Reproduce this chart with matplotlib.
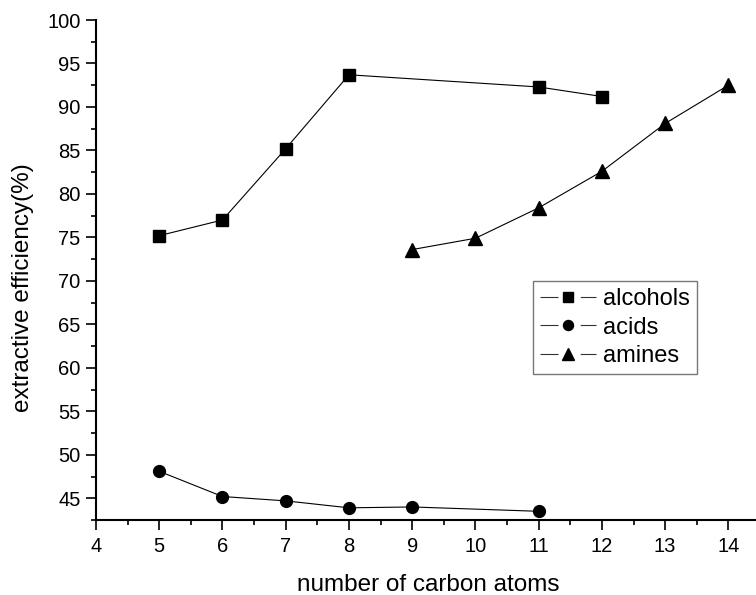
import matplotlib
matplotlib.use("Agg")
import matplotlib.pyplot as plt
from matplotlib.ticker import MultipleLocator

plt.rcParams['font.family'] = ['Liberation Sans', 'DejaVu Sans']
plt.rcParams['lines.scale_dashes'] = False

# values
alcohols_x = [5, 6, 7, 8, 11, 12]
alcohols_y = [75.2, 77.0, 85.2, 93.7, 92.3, 91.2]
acids_x = [5, 6, 7, 8, 9, 11]
acids_y = [48.1, 45.2, 44.7, 43.9, 44.0, 43.5]
amines_x = [9, 10, 11, 12, 13, 14]
amines_y = [73.6, 74.9, 78.4, 82.6, 88.1, 92.5]

fig = plt.figure(figsize=(7.56, 5.95), dpi=100)
ax = fig.add_axes([96 / 756, 1 - 520 / 595, (760 - 96) / 756, 500 / 595])

ax.plot(alcohols_x, alcohols_y, color='black', lw=0.8, marker='s', ms=8, label='alcohols')
ax.plot(acids_x, acids_y, color='black', lw=0.8, marker='o', ms=8.5, label='acids')
ax.plot(amines_x, amines_y, color='black', lw=0.8, marker='^', ms=9.5, label='amines')

ax.set_xlim(4, 14.5)
ax.set_ylim(42.5, 100)
ax.xaxis.set_major_locator(MultipleLocator(1))
ax.xaxis.set_minor_locator(MultipleLocator(0.5))
ax.yaxis.set_major_locator(MultipleLocator(5))
ax.yaxis.set_minor_locator(MultipleLocator(2.5))
ax.set_xticks(range(4, 15))
ax.set_yticks(range(45, 101, 5))

for side in ['top', 'right']:
    ax.spines[side].set_visible(False)
for side in ['left', 'bottom']:
    ax.spines[side].set_linewidth(1.5)

ax.tick_params(which='major', direction='out', length=7, width=1.2, labelsize=14.5, pad=4)
ax.tick_params(which='minor', direction='out', length=3.5, width=1.2)
ax.tick_params(axis='x', which='major', pad=5)

ax.set_xlabel('number of carbon atoms', fontsize=17.5)
ax.set_ylabel('extractive efficiency(%)', fontsize=17.5)
ax.xaxis.set_label_coords(0.5, -0.108)
ax.yaxis.set_label_coords(-0.094, 0.465)

leg = ax.legend(loc='upper left', bbox_to_anchor=(533 / 756, 1 - 281 / 595),
                bbox_transform=fig.transFigure, fontsize=17, frameon=True,
                fancybox=False, borderaxespad=0, borderpad=0.3, handlelength=2.35,
                handletextpad=0.3, labelspacing=0.28, markerscale=0.85)
leg.get_frame().set_edgecolor('#555555')
leg.get_frame().set_linewidth(1.0)
# Origin-style handle: short line, gap round the marker, short line
for line in leg.get_lines():
    line.set_color('#333333')
    line.set_markerfacecolor('black')
    line.set_markeredgecolor('black')
    line.set_dashes((13, 16))

fig.savefig('out.png', dpi=100)
